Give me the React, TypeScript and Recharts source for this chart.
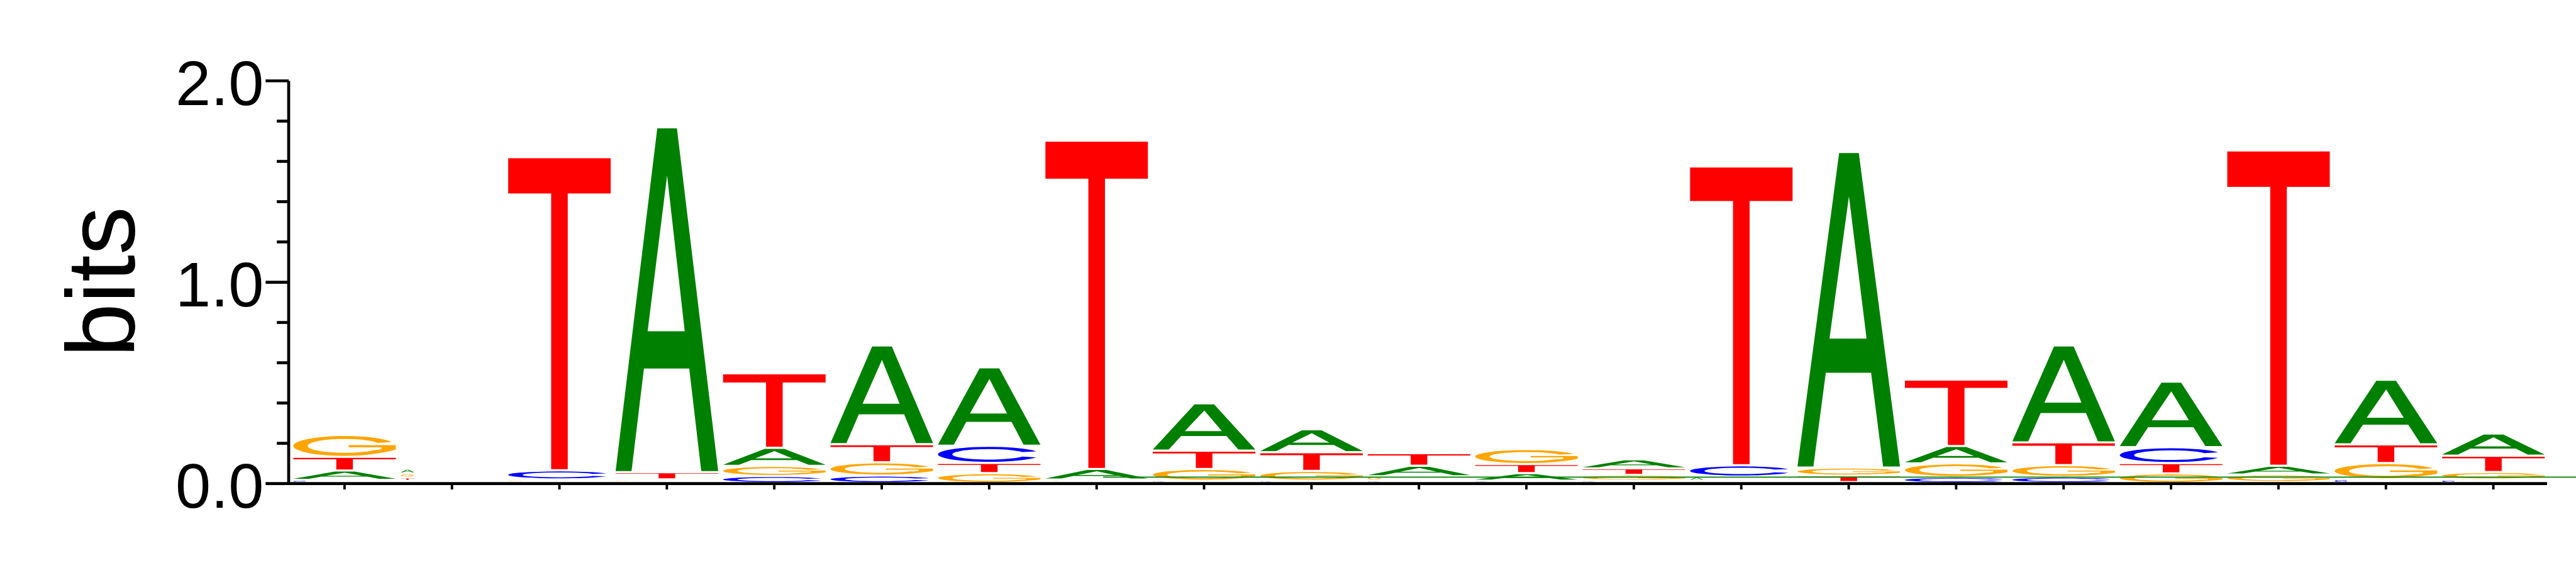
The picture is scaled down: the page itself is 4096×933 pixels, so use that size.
import { BarChart, Bar, XAxis, YAxis, ReferenceLine } from 'recharts';

// Motif positions (x axis has no labels)
const POSITIONS = [1, 2, 3, 4, 5, 6, 7, 8, 9, 10, 11, 12, 13, 14, 15, 16, 17, 18, 19, 20, 21];

// Letter heights in bits, one value per position
const A_BITS = [0.046, 0.023, 0.005, 1.713, 0.090, 0.490, 0.390, 0.053, 0.235, 0.114, 0.052, 0.037, 0.045, 0.020, 1.567, 0.086, 0.481, 0.326, 0.044, 0.321, 0.110];
const C_BITS = [0.016, 0.010, 0.045, 0.005, 0.035, 0.037, 0.085, 0.005, 0.012, 0.012, 0.012, 0.012, 0.012, 0.056, 0.005, 0.030, 0.031, 0.079, 0.005, 0.020, 0.018];
const G_BITS = [0.109, 0.020, 0.013, 0.013, 0.050, 0.066, 0.049, 0.012, 0.058, 0.048, 0.022, 0.075, 0.029, 0.012, 0.040, 0.068, 0.058, 0.048, 0.037, 0.079, 0.037];
const T_BITS = [0.068, 0.018, 1.555, 0.036, 0.370, 0.090, 0.051, 1.630, 0.091, 0.093, 0.062, 0.045, 0.032, 1.484, 0.032, 0.330, 0.113, 0.051, 1.566, 0.093, 0.081];

const Y_TICKS = [0, 0.2, 0.4, 0.6, 0.8, 1, 1.2, 1.4, 1.6, 1.8, 2];

// stray green rule near the baseline (position range, bits)
const GREEN_RULE = { from: 7.2, to: 21.75, y: 0.032 };

const LETTER_COLORS: Record<string, string> = {
    A: '#008000',
    C: '#0000FF',
    G: '#FFA500',
    T: '#FF0000'
};

// glyph outlines in a 100x100 box
const GLYPHS: Record<string, string> = {
    A: 'M0,100L40.6,0H59.8L100,100H83.5L71.8,70.1H27.6L15.5,100Z M50.2,13.8L67.4,59.2H31.2Z',
    C: 'M95.8,30A50,50,0,1,0,95.8,70L82.5,65A36,35,0,1,1,82.5,35Z',
    G: 'M95.8,30A50,50,0,1,0,85.4,85.4Q96,76 100,68L100,46L54,46L54,57L86,57L86,66Q84,70 77.6,72.5A36,35,0,1,1,82.5,35Z',
    T: 'M0,0H100V11.3H58.1V100H41.9V11.3H0Z'
};

const S = 0.854;
const PAD = 4 * S;      // gap between stacked letters
const LIFT = 3 * S;     // letters sit slightly above the axis
const NARROW_BELOW = 0.025; // near-empty letters are drawn small at the left of the column
const NARROW_W = 25 * S;
const FONT = '"Liberation Sans", Arial, Helvetica, sans-serif';

// sort each column so the tallest letter is on top
const stacks = POSITIONS.map((pos, i) => {
    const letters: [string, number][] = [
        ['A', A_BITS[i]],
        ['C', C_BITS[i]],
        ['G', G_BITS[i]],
        ['T', T_BITS[i]]
    ];
    letters.sort((a, b) => a[1] - b[1]);
    const row: any = { pos };
    letters.forEach(([l, v], r) => {
        row[`v${r}`] = v;
        row[`l${r}`] = l;
    });
    return row;
});

const letterShape = (rank: number) => (props: any) => {
    const { x, y, width, height, payload } = props;
    const letter = payload[`l${rank}`];
    const value = payload[`v${rank}`];
    const inkH = height - PAD;
    if (!(inkH > 0.3)) return <g />;
    const w = value < NARROW_BELOW ? NARROW_W : width;
    return (
        <path
            d={GLYPHS[letter]}
            fill={LETTER_COLORS[letter]}
            fillRule="evenodd"
            transform={`translate(${x},${y + PAD - LIFT}) scale(${w / 100},${inkH / 100})`}
        />
    );
};

const YTick = ({ x, y, payload }: any) => {
    const v = payload.value;
    const major = Math.abs(v - Math.round(v)) < 1e-6;
    const len = major ? 36.7 : 18.8;
    return (
        <g>
            <line x1={x - len} x2={x} y1={y} y2={y} stroke="#000" strokeWidth={4.7} />
            {major && (
                <text x={x - 39.6} y={y + 38} textAnchor="end" fontSize={101} fontFamily={FONT} fill="#000">
                    {v.toFixed(1)}
                </text>
            )}
        </g>
    );
};

export default function App() {
    return (
        <div style={{ position: 'absolute', left: 0, top: 0, width: 4096, height: 933, background: '#fff' }}>
            <BarChart
                width={4096}
                height={933}
                data={stacks}
                margin={{ top: 128.5, right: 46, bottom: 144.4, left: 0 }}
                barSize={163}
            >
                <XAxis
                    dataKey="pos"
                    height={20}
                    interval={0}
                    padding={{ left: 3.4, right: 0 }}
                    axisLine={{ stroke: '#000', strokeWidth: 4.7 }}
                    tickLine={{ stroke: '#000', strokeWidth: 3.9 }}
                    tickSize={9.4}
                    tickFormatter={() => ''}
                />
                <XAxis
                    xAxisId="n"
                    type="number"
                    domain={[0.5, 21.5]}
                    allowDataOverflow
                    padding={{ left: 3.4, right: 0 }}
                    hide
                />
                <YAxis
                    width={459}
                    domain={[0, 2]}
                    ticks={Y_TICKS}
                    allowDataOverflow
                    interval={0}
                    tickSize={0}
                    tickMargin={0}
                    tickLine={false}
                    axisLine={{ stroke: '#000', strokeWidth: 4.7 }}
                    tick={<YTick />}
                    label={{
                        content: () => (
                            <text
                                transform="translate(213.5,448) rotate(-90)"
                                textAnchor="middle"
                                fontSize={154}
                                fontFamily={FONT}
                                fill="#000"
                            >
                                bits
                            </text>
                        )
                    }}
                />
                {[0, 1, 2, 3].map(r => (
                    <Bar
                        key={r}
                        dataKey={`v${r}`}
                        stackId="s"
                        shape={letterShape(r)}
                        isAnimationActive={false}
                    />
                ))}
                <ReferenceLine
                    xAxisId="n"
                    segment={[{ x: GREEN_RULE.from, y: GREEN_RULE.y }, { x: GREEN_RULE.to, y: GREEN_RULE.y }]}
                    stroke="#008000"
                    strokeWidth={1.8}
                    ifOverflow="visible"
                />
            </BarChart>
        </div>
    );
}
